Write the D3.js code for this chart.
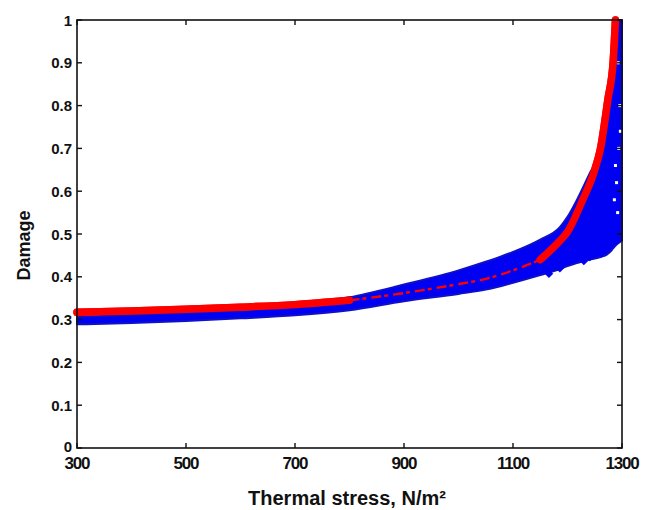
<!DOCTYPE html>
<html>
<head>
<meta charset="utf-8">
<script src="https://cdn.jsdelivr.net/npm/d3@7"></script>
<style>
  html, body { margin: 0; padding: 0; background: #fff; }
  svg { display: block; }
</style>
</head>
<body>
<svg id="chart" width="649" height="510"></svg>
<script>
// ---- data ----
const xTicks = [300, 500, 700, 900, 1100, 1300];
const yTicks = [0, 0.1, 0.2, 0.3, 0.4, 0.5, 0.6, 0.7, 0.8, 0.9, 1];
const yTickLabels = ["0", "0.1", "0.2", "0.3", "0.4", "0.5", "0.6", "0.7", "0.8", "0.9", "1"];

// blue scatter band: upper and lower envelopes
const bandX     = [300,   400,   500,   600,   700,   800,   900,   1000,  1050,  1100,  1150,  1186,  1200, 1217,  1240, 1262, 1272, 1281, 1286, 1300];
const bandUpper = [0.306, 0.311, 0.316, 0.322, 0.333, 0.352, 0.382, 0.415, 0.435, 0.458, 0.487, 0.516, 0.54, 0.579, 0.64, 0.70, 0.80, 0.90, 1.00, 1.00];
const bandLower = [0.289, 0.292, 0.297, 0.303, 0.310, 0.322, 0.343, 0.360, 0.370, 0.386, 0.404, 0.418, 0.425, 0.432, 0.440, 0.447, 0.452, 0.462, 0.470, 0.485];

// stray blue points below the band
const strayX = [1186, 1205, 1241, 1251, 1273, 1291, 1230, 1262, 1166];
const strayY = [0.420, 0.440, 0.446, 0.481, 0.493, 0.486, 0.437, 0.455, 0.407];

// white gaps inside the blue column
const gapX = [1290, 1294, 1292, 1296, 1288, 1293, 1286, 1297];
const gapY = [0.62, 0.70, 0.55, 0.80, 0.66, 0.90, 0.58, 0.74];

// red fitted curve
const redX = [300,   400,   500,   600,   700,   800,   900,   1000,  1050,  1100,  1150,  1186,  1200,  1227,  1250,  1260,  1274,  1284,  1288];
const redY = [0.317, 0.320, 0.324, 0.329, 0.335, 0.345, 0.362, 0.383, 0.395, 0.415, 0.440, 0.484, 0.505, 0.577, 0.650, 0.696, 0.813, 0.906, 1.000];

// ---- layout ----
const svg = d3.select("#chart");
const L = 77, R = 622, T = 20, B = 448;
const x = d3.scaleLinear().domain([300, 1300]).range([L, R]);
const y = d3.scaleLinear().domain([0, 1]).range([B, T]);

const blue = "#0000f2";
const red = "#ff0000";

svg.append("defs").append("clipPath").attr("id", "clip")
  .append("rect").attr("x", L - 4).attr("y", T - 5).attr("width", R - L + 7).attr("height", B - T + 10);
const plot = svg.append("g").attr("clip-path", "url(#clip)");

const band = bandX.map((v, i) => ({ v, hi: bandUpper[i], lo: bandLower[i] }));
const red_pts = redX.map((v, i) => ({ v, d: redY[i] }));

const redLine = d3.line().x(d => x(d.v)).y(d => y(d.d)).curve(d3.curveMonotoneX);

// red under-layer (hidden in the middle by blue)
plot.append("path").datum(red_pts).attr("d", redLine)
  .attr("fill", "none").attr("stroke", red).attr("stroke-width", 7.5).attr("stroke-linecap", "round");

// blue band
const area = d3.area().x(d => x(d.v)).y0(d => y(d.lo)).y1(d => y(d.hi)).curve(d3.curveMonotoneX);
plot.append("path").datum(band).attr("d", area)
  .attr("fill", blue).attr("stroke", "#1010c8").attr("stroke-width", 2).attr("stroke-linejoin", "round");

// stray points (diamond-like squares)
plot.selectAll("rect.stray").data(strayX.map((v, i) => ({ v, d: strayY[i] }))).enter()
  .append("rect").attr("class", "stray")
  .attr("x", d => x(d.v) - 3).attr("y", d => y(d.d) - 3)
  .attr("width", 6).attr("height", 6)
  .attr("transform", d => `rotate(45 ${x(d.v)} ${y(d.d)})`)
  .attr("fill", blue);

// white gaps
plot.selectAll("rect.gap").data(gapX.map((v, i) => ({ v, d: gapY[i] }))).enter()
  .append("rect").attr("class", "gap")
  .attr("x", d => x(d.v) - 1.5).attr("y", d => y(d.d) - 1.5)
  .attr("width", 3).attr("height", 3).attr("fill", "#fff");

// red on top: left & right segments thick, middle thin and broken
const leftSeg = red_pts.filter(d => d.v <= 800);
const midSeg = red_pts.filter(d => d.v >= 800 && d.v <= 1150);
const rightSeg = red_pts.filter(d => d.v >= 1150);
plot.append("path").datum(leftSeg).attr("d", redLine)
  .attr("fill", "none").attr("stroke", red).attr("stroke-width", 7.5).attr("stroke-linecap", "round");
plot.append("path").datum(midSeg).attr("d", redLine)
  .attr("fill", "none").attr("stroke", red).attr("stroke-width", 2.4).attr("stroke-dasharray", "10,3,4,5");
plot.append("path").datum(rightSeg).attr("d", redLine)
  .attr("fill", "none").attr("stroke", red).attr("stroke-width", 7.5).attr("stroke-linecap", "round");

// ---- frame and ticks (inward on all sides) ----
const frame = svg.append("g");
frame.append("rect").attr("x", L).attr("y", T).attr("width", R - L).attr("height", B - T)
  .attr("fill", "none").attr("stroke", "#111").attr("stroke-width", 1.6);

const tl = 5;
frame.selectAll("line.xb").data(xTicks).enter().append("line")
  .attr("x1", d => x(d)).attr("x2", d => x(d)).attr("y1", B).attr("y2", B - tl)
  .attr("stroke", "#111").attr("stroke-width", 1.4);
frame.selectAll("line.xt").data(xTicks).enter().append("line")
  .attr("x1", d => x(d)).attr("x2", d => x(d)).attr("y1", T).attr("y2", T + tl)
  .attr("stroke", "#111").attr("stroke-width", 1.4);
frame.selectAll("line.yl").data(yTicks).enter().append("line")
  .attr("x1", L).attr("x2", L + tl).attr("y1", d => y(d)).attr("y2", d => y(d))
  .attr("stroke", "#111").attr("stroke-width", 1.4);
frame.selectAll("line.yr").data(yTicks).enter().append("line")
  .attr("x1", R).attr("x2", R - tl).attr("y1", d => y(d)).attr("y2", d => y(d))
  .attr("stroke", "#111").attr("stroke-width", 1.4);

// tick labels
svg.append("g").selectAll("text").data(xTicks).enter().append("text")
  .attr("x", d => x(d)).attr("y", 469)
  .attr("text-anchor", "middle")
  .style("font-family", "'Liberation Sans', Arial, sans-serif")
  .style("font-weight", "bold").style("font-size", "17px").style("letter-spacing", "-1.2px")
  .attr("fill", "#111").text(d => d);

svg.append("g").selectAll("text").data(yTicks).enter().append("text")
  .attr("x", 72).attr("y", d => y(d) + 5.5 - (d === 0 ? 1.5 : 0))
  .attr("text-anchor", "end")
  .style("font-family", "'Liberation Sans', Arial, sans-serif")
  .style("font-weight", "bold").style("font-size", "15px")
  .attr("fill", "#111").text((d, i) => yTickLabels[i]);

// axis titles
svg.append("text")
  .attr("transform", "translate(30,245.5) rotate(-90)")
  .attr("text-anchor", "middle")
  .style("font-family", "'Liberation Sans', Arial, sans-serif")
  .style("font-weight", "bold").style("font-size", "18px")
  .attr("fill", "#111").text("Damage");

svg.append("text")
  .attr("x", 347).attr("y", 505)
  .attr("text-anchor", "middle")
  .style("font-family", "'Liberation Sans', Arial, sans-serif")
  .style("font-weight", "bold").style("font-size", "20px")
  .attr("fill", "#111").text("Thermal stress, N/m²");
</script>
</body>
</html>
